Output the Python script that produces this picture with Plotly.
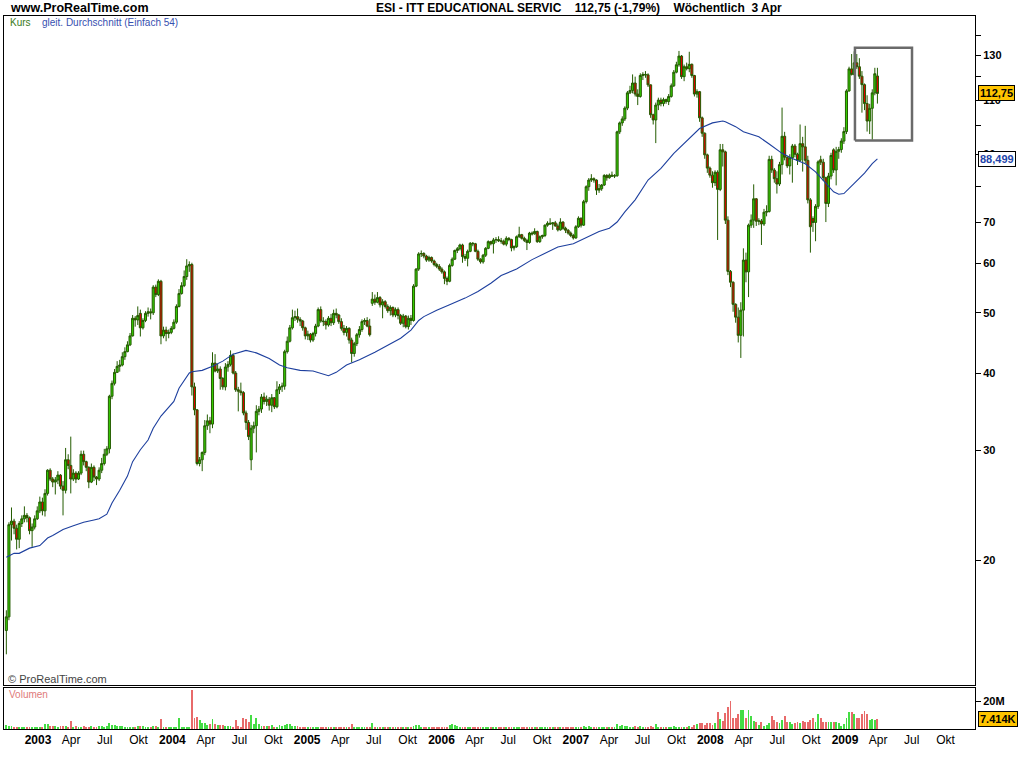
import numpy as np
import pandas as pd
import plotly.graph_objects as go

# ---------------- data (weekly, ESI - ITT Educational Services) ----------------
first_week = "2002-10-07"

opens = [
    15.4, 16.2, 22.8, 23.1, 22.5, 21.6, 22.9, 23.3, 23.6, 23.4,
    22.3, 22.6, 23.3, 24.0, 24.8, 24.0, 25.6, 27.9, 27.0, 26.7,
    26.9, 27.4, 26.3, 25.9, 29.0, 28.4, 27.0, 27.6, 27.0, 27.6,
    29.6, 28.8, 28.2, 26.7, 28.2, 27.2, 27.0, 27.9, 28.6, 29.6,
    30.2, 36.7, 38.5, 40.1, 41.0, 41.2, 42.5, 43.3, 44.4, 45.9,
    49.0, 48.7, 49.9, 47.3, 48.6, 49.9, 50.2, 50.0, 55.0, 53.5,
    56.2, 45.9, 46.9, 46.3, 46.5, 47.2, 48.3, 51.2, 53.7, 55.3,
    57.2, 59.5, 59.8, 38.0, 34.9, 28.6, 29.0, 29.8, 32.9, 33.5,
    33.1, 41.5, 40.3, 40.6, 39.2, 38.0, 40.9, 41.3, 42.7, 40.0,
    37.6, 37.4, 37.2, 34.5, 33.3, 29.0, 32.6, 32.9, 34.7, 35.0,
    36.6, 36.0, 36.3, 35.5, 36.5, 35.3, 37.6, 38.0, 38.1, 43.3,
    45.0, 47.3, 49.1, 49.3, 48.8, 48.5, 47.3, 45.9, 46.2, 45.2,
    46.3, 47.6, 50.6, 48.5, 48.4, 47.8, 49.0, 48.2, 49.9, 49.6,
    48.4, 47.2, 46.5, 47.2, 45.2, 43.0, 44.6, 46.1, 47.0, 48.4,
    48.6, 47.6, 51.8, 52.6, 52.0, 52.9, 51.5, 52.1, 51.2, 50.4,
    51.0, 49.6, 50.6, 49.5, 48.1, 49.4, 47.5, 49.0, 48.6, 55.2,
    58.8, 62.2, 62.3, 61.7, 60.8, 61.4, 60.6, 59.8, 59.4, 58.8,
    58.2, 56.8, 56.2, 59.6, 61.0, 63.0, 63.4, 64.3, 61.6, 61.2,
    62.8, 64.7, 64.6, 62.8, 61.0, 60.4, 61.9, 63.5, 65.1, 64.6,
    65.5, 65.6, 65.3, 65.2, 64.5, 65.9, 65.6, 63.6, 63.9, 66.3,
    66.8, 65.9, 65.4, 64.9, 67.2, 67.0, 67.6, 65.1, 66.3, 66.6,
    69.2, 69.7, 69.5, 69.8, 69.0, 68.0, 70.0, 68.4, 67.9, 67.2,
    66.6, 66.0, 68.8, 71.0, 69.2, 75.5, 79.8, 81.8, 82.2, 81.8,
    78.8, 79.2, 80.3, 83.2, 82.5, 83.3, 83.0, 83.1, 97.8, 101.1,
    102.6, 106.8, 113.0, 114.0, 117.2, 112.5, 111.5, 120.5, 121.0, 120.8,
    116.4, 104.2, 102.2, 108.0, 110.0, 108.6, 110.2, 109.4, 111.5, 116.0,
    122.0, 125.4, 129.5, 120.0, 124.5, 123.6, 125.6, 120.5, 112.5, 113.5,
    103.0, 97.3, 89.8, 85.5, 83.3, 81.0, 84.2, 79.0, 91.5, 90.8,
    70.5, 58.3, 56.0, 51.6, 49.2, 46.0, 50.5, 60.8, 58.2, 69.2,
    70.5, 76.3, 70.2, 70.3, 69.5, 72.6, 72.8, 88.3, 84.9, 82.2,
    80.6, 86.6, 96.2, 89.0, 86.2, 88.8, 92.8, 90.0, 88.0, 93.6,
    92.5, 88.0, 76.0, 70.9, 69.9, 74.2, 88.2, 87.4, 82.5, 75.0,
    83.0, 91.5, 84.9, 91.0, 91.6, 94.5, 97.9, 113.8, 123.5, 121.0,
    126.3, 124.5, 120.2, 116.5, 108.6, 101.8, 106.7, 113.0, 120.3,
]
highs = [
    16.6, 23.0, 24.3, 23.3, 22.8, 23.1, 23.6, 24.4, 23.8, 23.5,
    22.9, 23.6, 24.4, 25.3, 25.2, 26.0, 28.0, 28.1, 27.2, 27.2,
    27.8, 27.5, 26.8, 30.3, 29.6, 31.6, 28.0, 27.8, 27.8, 30.0,
    30.0, 28.9, 28.3, 28.6, 28.4, 27.3, 28.2, 29.2, 30.2, 30.5,
    36.9, 38.9, 40.6, 41.8, 42.0, 43.2, 44.0, 45.0, 46.4, 49.6,
    49.4, 51.2, 50.6, 49.0, 50.3, 51.0, 50.8, 55.4, 55.5, 56.6,
    56.5, 47.5, 47.5, 47.0, 47.6, 48.8, 51.6, 54.6, 56.0, 58.5,
    61.0, 60.5, 60.2, 38.6, 35.0, 29.3, 29.9, 33.6, 34.3, 34.0,
    43.2, 42.9, 41.4, 41.0, 39.4, 41.5, 41.8, 43.5, 43.0, 40.3,
    38.0, 38.6, 37.4, 34.8, 33.6, 33.0, 33.4, 35.5, 35.4, 37.0,
    37.2, 36.8, 36.6, 37.0, 36.6, 38.8, 38.4, 38.6, 43.6, 45.8,
    47.8, 50.6, 50.4, 50.8, 49.2, 48.7, 47.5, 46.8, 46.4, 46.6,
    48.0, 51.0, 51.2, 49.2, 48.8, 49.4, 49.8, 50.6, 50.8, 49.8,
    49.0, 47.8, 47.6, 47.4, 45.6, 44.9, 46.4, 47.6, 48.8, 49.0,
    49.2, 48.9, 54.0, 53.5, 54.0, 53.2, 52.6, 52.4, 51.6, 51.4,
    51.2, 51.0, 51.0, 49.8, 49.8, 49.6, 49.5, 49.6, 55.6, 59.0,
    62.6, 63.0, 62.6, 62.0, 61.8, 61.6, 60.9, 60.2, 59.9, 59.2,
    58.5, 57.2, 60.0, 61.4, 63.2, 63.8, 64.6, 64.6, 62.2, 63.2,
    65.0, 65.0, 64.8, 63.2, 61.2, 62.2, 63.8, 65.4, 65.3, 66.0,
    66.2, 66.4, 66.0, 65.6, 66.4, 66.2, 65.8, 64.2, 66.6, 68.8,
    67.0, 66.3, 65.8, 67.5, 67.6, 68.4, 67.8, 66.6, 66.8, 69.4,
    70.2, 71.0, 70.0, 70.3, 69.6, 71.0, 70.2, 68.8, 68.2, 67.6,
    67.0, 69.2, 71.5, 71.2, 76.0, 80.2, 82.4, 83.6, 82.6, 82.0,
    80.6, 80.6, 83.6, 83.6, 83.8, 84.4, 83.6, 98.2, 101.6, 103.6,
    107.5, 113.8, 116.0, 121.0, 120.0, 114.5, 121.5, 122.0, 122.5, 121.5,
    116.6, 104.6, 109.0, 111.0, 111.0, 111.0, 110.6, 112.5, 117.0, 123.0,
    126.8, 132.0, 130.0, 125.5, 126.4, 131.6, 126.0, 120.8, 114.5, 113.8,
    103.5, 97.6, 90.2, 86.0, 84.5, 84.8, 84.8, 93.5, 93.5, 91.2,
    71.5, 58.6, 56.2, 51.8, 51.0, 52.0, 63.5, 62.5, 69.6, 72.0,
    80.5, 76.5, 71.0, 70.8, 73.5, 74.5, 89.5, 89.5, 85.5, 84.5,
    87.5, 107.0, 97.8, 89.3, 90.0, 93.5, 93.5, 90.5, 100.5, 96.0,
    100.0, 89.5, 76.5, 71.5, 74.8, 88.0, 89.5, 88.5, 82.8, 84.0,
    90.5, 92.0, 92.5, 92.5, 95.5, 99.5, 114.5, 124.5, 130.5, 131.8,
    130.5, 128.5, 122.5, 117.0, 112.0, 108.5, 114.5, 124.0, 124.0,
]
lows = [
    14.1, 16.0, 21.5, 22.0, 20.8, 20.9, 22.6, 23.0, 23.0, 22.0,
    21.0, 22.4, 23.2, 23.8, 23.6, 23.5, 25.4, 26.8, 26.2, 25.5,
    26.5, 26.0, 23.6, 25.6, 28.0, 25.6, 26.8, 26.6, 26.9, 27.4,
    28.4, 27.8, 26.1, 26.6, 26.8, 26.4, 26.8, 27.6, 28.4, 29.4,
    29.7, 36.3, 38.2, 40.0, 40.2, 41.0, 42.0, 43.2, 44.2, 45.8,
    47.5, 47.8, 45.8, 47.0, 48.3, 49.3, 48.8, 49.6, 53.0, 53.2,
    44.5, 45.5, 45.0, 45.5, 46.2, 47.0, 48.0, 51.0, 53.5, 55.0,
    56.5, 58.2, 36.8, 34.2, 28.4, 28.3, 27.8, 29.5, 32.4, 32.0,
    32.6, 40.1, 40.0, 37.6, 37.6, 37.5, 40.2, 41.0, 39.8, 37.3,
    34.7, 36.8, 34.2, 32.4, 31.2, 27.9, 32.0, 29.8, 34.2, 34.5,
    35.6, 35.4, 34.8, 34.6, 35.0, 35.1, 37.0, 37.3, 37.6, 43.0,
    44.8, 47.0, 48.5, 48.2, 47.6, 46.8, 45.3, 45.2, 44.8, 44.9,
    45.8, 47.4, 48.2, 47.6, 47.0, 47.5, 47.6, 47.8, 49.0, 48.0,
    46.8, 46.0, 45.8, 44.6, 41.6, 42.5, 44.2, 45.6, 46.6, 47.8,
    47.4, 45.8, 51.3, 51.5, 51.8, 51.0, 49.0, 50.8, 50.0, 49.5,
    49.2, 49.2, 48.8, 47.8, 47.4, 47.2, 47.0, 47.8, 48.4, 55.0,
    58.4, 61.5, 61.2, 60.4, 60.4, 60.2, 59.4, 59.0, 58.4, 57.8,
    55.6, 55.4, 56.0, 59.3, 60.8, 62.4, 63.0, 60.2, 60.6, 59.4,
    62.6, 64.0, 62.6, 60.6, 60.0, 60.0, 61.5, 63.3, 64.2, 62.3,
    64.8, 65.0, 64.6, 64.2, 64.0, 65.2, 62.8, 63.0, 63.6, 66.0,
    65.6, 65.0, 63.1, 64.6, 66.6, 66.8, 64.8, 64.8, 65.8, 66.2,
    68.8, 69.3, 68.0, 68.8, 67.6, 67.8, 68.0, 67.2, 66.8, 66.2,
    65.6, 65.8, 68.5, 68.6, 69.0, 75.0, 78.6, 81.2, 81.0, 77.4,
    78.0, 78.6, 80.0, 81.6, 82.2, 82.8, 82.4, 82.8, 97.0, 100.0,
    101.8, 106.0, 112.5, 112.8, 111.5, 108.0, 111.0, 118.5, 119.5, 115.5,
    103.0, 100.5, 93.8, 106.0, 107.5, 107.5, 108.5, 108.0, 111.0, 115.5,
    121.5, 124.5, 119.0, 118.0, 122.8, 122.0, 119.5, 111.5, 111.0, 101.5,
    96.0, 88.5, 84.0, 82.5, 79.5, 80.0, 65.5, 78.5, 86.0, 69.5,
    57.5, 55.0, 50.2, 48.2, 44.8, 42.3, 45.8, 56.0, 53.0, 68.5,
    68.5, 69.0, 69.2, 64.3, 69.0, 71.5, 72.5, 84.0, 81.0, 77.8,
    80.0, 83.5, 88.0, 85.5, 83.5, 81.0, 89.0, 86.5, 87.5, 84.4,
    87.0, 75.0, 62.5, 67.5, 65.2, 73.5, 86.5, 81.5, 70.0, 74.0,
    82.0, 84.0, 80.2, 88.5, 90.5, 93.5, 97.0, 113.5, 120.5, 120.5,
    123.5, 119.0, 105.0, 106.0, 97.9, 97.0, 95.0, 112.0, 108.6,
]
closes = [
    16.2, 22.8, 23.1, 22.5, 21.6, 22.9, 23.3, 23.6, 23.4, 22.3,
    22.6, 23.3, 24.0, 24.8, 24.0, 25.6, 27.9, 27.0, 26.7, 26.9,
    27.4, 26.3, 25.9, 29.0, 28.4, 27.0, 27.6, 27.0, 27.6, 29.6,
    28.8, 28.2, 26.7, 28.2, 27.2, 27.0, 27.9, 28.6, 29.6, 30.2,
    36.7, 38.5, 40.1, 41.0, 41.2, 42.5, 43.3, 44.4, 45.9, 49.0,
    48.7, 49.5, 47.3, 48.6, 49.9, 50.2, 50.0, 55.0, 53.5, 56.2,
    45.9, 46.9, 46.3, 46.5, 47.2, 48.3, 51.2, 53.7, 55.3, 57.2,
    59.5, 59.8, 38.0, 34.9, 28.6, 29.0, 29.8, 32.9, 33.5, 33.1,
    41.5, 40.3, 40.6, 39.2, 38.0, 40.9, 41.3, 42.7, 40.0, 37.6,
    37.4, 37.2, 34.5, 33.3, 31.6, 32.6, 32.9, 34.7, 35.0, 36.6,
    36.0, 36.3, 35.5, 36.5, 35.3, 37.6, 38.0, 38.1, 43.3, 45.0,
    47.3, 49.1, 49.3, 48.8, 48.5, 47.3, 45.9, 46.2, 45.2, 46.3,
    47.6, 50.6, 48.5, 48.4, 47.8, 49.0, 48.2, 49.9, 49.6, 48.4,
    47.2, 46.5, 47.2, 45.2, 43.0, 44.6, 46.1, 47.0, 48.4, 48.6,
    47.6, 46.1, 52.6, 52.0, 52.9, 51.5, 52.1, 51.2, 50.4, 51.0,
    49.6, 50.6, 49.5, 48.1, 49.4, 47.5, 49.0, 48.6, 55.2, 58.8,
    62.2, 62.3, 61.7, 60.8, 61.4, 60.6, 59.8, 59.4, 58.8, 58.2,
    56.8, 56.2, 59.6, 61.0, 63.0, 63.4, 64.3, 61.6, 61.2, 62.8,
    64.7, 64.6, 62.8, 61.0, 60.4, 61.9, 63.5, 65.1, 64.6, 65.5,
    65.6, 65.3, 65.2, 64.5, 65.9, 65.6, 63.6, 63.9, 66.3, 66.8,
    65.9, 65.4, 64.9, 67.2, 67.0, 67.6, 65.1, 66.3, 66.6, 69.2,
    69.7, 69.5, 69.8, 69.0, 68.0, 70.0, 68.4, 67.9, 67.2, 66.6,
    66.0, 68.8, 71.0, 69.2, 75.5, 79.8, 81.8, 82.2, 81.8, 78.8,
    79.2, 80.3, 83.2, 82.5, 83.3, 83.0, 83.1, 97.8, 101.1, 102.6,
    106.8, 113.0, 114.0, 117.2, 112.5, 111.5, 120.5, 121.0, 120.8, 116.4,
    104.2, 102.2, 108.0, 110.0, 108.6, 110.2, 109.4, 111.5, 116.0, 122.0,
    125.4, 129.5, 120.0, 124.5, 123.6, 125.6, 120.5, 112.5, 113.5, 103.0,
    97.3, 89.8, 85.5, 83.3, 81.0, 84.2, 79.0, 91.5, 90.8, 70.5,
    58.3, 56.0, 51.6, 49.2, 46.0, 50.5, 60.8, 58.2, 69.2, 70.5,
    76.3, 70.2, 70.3, 69.5, 72.6, 72.8, 88.3, 84.9, 82.2, 80.6,
    86.6, 96.2, 89.0, 86.2, 88.8, 92.8, 90.0, 88.0, 93.6, 92.5,
    88.0, 76.0, 68.8, 69.9, 74.2, 87.5, 87.4, 82.5, 75.0, 83.0,
    89.6, 84.9, 91.0, 91.6, 94.5, 97.9, 113.8, 123.5, 121.0, 126.3,
    124.5, 120.2, 116.5, 108.6, 101.8, 106.7, 113.0, 121.3, 112.75,
]
# weekly volume, millions of shares
volume_m = [
    3.1, 2.4, 2.4, 1.3, 1.2, 1.4, 1.2, 1.1, 1.3, 1.2,
    1.7, 1.5, 1.4, 1.6, 1.8, 3.9, 3.9, 2.4, 2.2, 2.0,
    1.7, 2.2, 2.4, 2.0, 1.6, 6.0, 1.6, 1.9, 1.8, 1.8,
    1.9, 1.6, 1.5, 1.9, 1.4, 1.8, 2.2, 2.4, 1.8, 1.9,
    4.6, 3.1, 3.1, 2.2, 2.0, 2.2, 1.8, 1.6, 1.8, 1.7,
    1.6, 1.9, 2.5, 2.4, 1.5, 1.4, 1.6, 2.4, 2.0, 1.8,
    7.5, 1.8, 1.6, 1.5, 1.3, 1.2, 1.4, 7.7, 1.6, 1.4,
    1.5, 1.6, 27.8, 8.2, 8.9, 6.8, 4.1, 4.3, 2.9, 3.6,
    7.5, 3.6, 3.1, 3.1, 3.1, 2.2, 2.0, 2.0, 1.7, 6.8,
    2.4, 1.8, 8.2, 7.5, 5.3, 10.4, 3.6, 8.2, 3.6, 2.2,
    2.4, 1.9, 2.0, 3.1, 1.8, 1.7, 2.9, 2.4, 3.1, 3.6,
    3.9, 2.0, 1.9, 2.2, 1.8, 1.7, 1.6, 1.8, 1.5, 1.4,
    1.3, 1.4, 1.2, 1.3, 1.5, 1.2, 1.3, 1.4, 1.2, 1.5,
    1.4, 1.3, 1.6, 1.5, 3.9, 1.5, 1.3, 1.4, 1.6, 1.3,
    1.2, 1.5, 4.6, 1.6, 1.5, 1.4, 1.7, 1.3, 1.2, 1.4,
    1.5, 1.3, 1.4, 1.6, 1.2, 1.3, 1.5, 1.4, 2.2, 3.1,
    3.1, 1.8, 1.5, 1.6, 1.3, 1.4, 1.2, 1.3, 1.4, 1.5,
    1.3, 1.4, 3.1, 3.4, 3.1, 2.2, 1.8, 1.6, 1.5, 1.4,
    1.2, 1.3, 1.5, 1.4, 1.2, 1.3, 1.6, 1.4, 1.3, 1.5,
    1.2, 1.4, 1.3, 1.6, 1.5, 1.3, 1.7, 1.4, 1.3, 1.5,
    1.4, 1.2, 1.6, 1.5, 1.3, 1.2, 1.4, 1.5, 1.3, 1.6,
    1.7, 1.4, 1.3, 1.5, 1.2, 1.6, 1.4, 1.3, 1.2, 1.4,
    1.5, 1.3, 1.6, 1.4, 2.0, 1.8, 2.2, 1.6, 1.4, 1.7,
    1.5, 1.4, 1.6, 1.3, 1.5, 1.2, 1.4, 3.6, 2.4, 2.7,
    2.5, 2.2, 1.8, 1.7, 2.0, 1.6, 1.9, 1.5, 1.4, 1.8,
    2.4, 1.6, 3.9, 1.8, 1.5, 1.4, 1.6, 1.5, 1.7, 1.9,
    1.6, 1.5, 1.8, 1.7, 1.4, 2.2, 1.6, 2.6, 3.6, 4.3,
    4.1, 2.6, 4.1, 4.1, 3.0, 4.1, 12.1, 7.0, 5.8, 11.4,
    15.7, 20.5, 8.2, 7.7, 11.1, 14.0, 14.0, 7.7, 14.0, 9.7,
    5.6, 4.8, 3.1, 4.8, 2.4, 3.1, 4.3, 9.7, 6.3, 4.8,
    4.1, 6.5, 9.2, 5.3, 4.8, 3.4, 4.1, 4.8, 4.3, 5.8,
    5.3, 4.8, 6.5, 8.2, 5.3, 11.1, 8.2, 4.8, 5.3, 5.3,
    5.3, 4.8, 4.8, 4.1, 2.4, 3.4, 8.2, 12.6, 12.6, 11.1,
    8.2, 7.7, 11.1, 13.3, 11.1, 6.8, 7.5, 6.8, 7.414,
]
# 54-week simple moving average, read at these week numbers
ma_week = [0, 3, 5, 9, 13, 16, 18, 22, 26, 30, 34, 36, 39, 41, 44, 47, 49, 52, 55, 57,
           60, 62, 65, 67, 71, 72, 76, 80, 84, 88, 93, 97, 102, 106, 109, 114, 119, 125, 128, 132,
           137, 143, 148, 153, 157, 160, 162, 167, 172, 178, 183, 188, 192, 198, 204, 209, 214, 220, 224, 230,
           234, 237, 240, 244, 249, 254, 259, 265, 269, 274, 278, 279, 283, 286, 292, 296, 301, 305, 310, 314,
           318, 321, 323, 325, 329, 333, 336, 338]
ma_value = [20.2, 20.5, 20.5, 20.9, 21.1, 21.7, 21.9, 22.4, 22.7, 23.0, 23.2, 23.3, 23.7, 24.7, 25.9, 27.3, 28.8, 30.1, 31.2, 32.6,
            34.1, 34.9, 36.0, 37.8, 40.0, 40.2, 40.4, 41.0, 41.8, 42.9, 43.5, 43.1, 42.2, 41.2, 40.8, 40.4, 40.3, 39.6, 40.1, 41.2,
            42.0, 43.2, 44.4, 45.5, 46.9, 48.6, 49.3, 50.5, 51.5, 52.8, 54.1, 55.8, 57.4, 58.8, 60.9, 62.3, 63.8, 64.6, 65.8, 67.6,
            68.4, 70.0, 72.7, 76.0, 81.8, 85.4, 90.3, 95.3, 99.0, 101.1, 101.8, 101.5, 99.7, 97.8, 96.0, 93.5, 90.3, 88.6, 86.9, 84.3,
            80.8, 78.3, 77.6, 77.8, 80.8, 83.9, 86.9, 88.499]

price_ticks = [20, 30, 40, 50, 60, 70, 80, 90, 100, 110, 120, 130, 140]
price_labels = ["20", "30", "40", "50", "60", "70", "", "90", "", "110", "", "130", ""]
month_names = {1: None, 4: "Apr", 7: "Jul", 10: "Okt"}

n = len(closes)
assert len(opens) == n and len(highs) == n and len(lows) == n and len(volume_m) == n
assert len(ma_week) == len(ma_value)

dates = pd.date_range(first_week, periods=n, freq="7D")
volume = np.array(volume_m) * 1e6
up = np.array(closes) >= np.array(opens)

# ---------------- geometry helpers (pixel -> paper) ----------------
W, H = 1024, 768
def fx(px):
    return px / W
def fy(py):
    return 1 - py / H

X_RANGE = ["2002-09-30 15:36", "2009-12-20 02:00"]
Y_RANGE = [np.log10(12.584), np.log10(150.25)]
VOL_MAX = 29.6e6

GREEN_LINE = "#245c00"
GREEN_FILL = "#33cc00"
RED_FILL = "#dd0000"
FONT = "Liberation Sans, Arial, sans-serif"

fig = go.Figure()

fig.add_trace(go.Candlestick(
    x=dates, open=opens, high=highs, low=lows, close=closes,
    increasing=dict(line=dict(color=GREEN_LINE, width=1), fillcolor=GREEN_FILL),
    decreasing=dict(line=dict(color=GREEN_LINE, width=1), fillcolor=RED_FILL),
    whiskerwidth=0, showlegend=False, hoverinfo="skip",
    xaxis="x", yaxis="y",
))

fig.add_trace(go.Scatter(
    x=dates[ma_week], y=ma_value, mode="lines",
    line=dict(color="#1d3f9e", width=1.1), showlegend=False, hoverinfo="skip",
    xaxis="x", yaxis="y",
))

# highlight box around the latest weeks
box_x = [pd.Timestamp("2009-01-28"), pd.Timestamp("2009-07-02")]
box_y = [94.7, 133.6]
fig.add_trace(go.Scatter(
    x=[box_x[0], box_x[1], box_x[1], box_x[0], box_x[0]],
    y=[box_y[0], box_y[0], box_y[1], box_y[1], box_y[0]],
    mode="lines", line=dict(color="#6a6a6a", width=2.5),
    showlegend=False, hoverinfo="skip", xaxis="x", yaxis="y",
))

fig.add_trace(go.Bar(
    x=dates, y=volume,
    marker=dict(color=np.where(up, "#44dd44", "#e86a6a"), line=dict(width=0)),
    width=2.4 * 86400000, showlegend=False, hoverinfo="skip",
    xaxis="x2", yaxis="y2",
))

# x tick labels (quarters)
tickvals, ticktext = [], []
for yr in range(2003, 2010):
    for m in (1, 4, 7, 10):
        tickvals.append(pd.Timestamp(yr, m, 1))
        ticktext.append(f"<b>{yr}</b>" if m == 1 else month_names[m])

axis_common = dict(showgrid=False, zeroline=False, showline=True, mirror=True,
                   linecolor="black", linewidth=1)

fig.update_layout(
    width=W, height=H, autosize=False,
    margin=dict(l=0, r=0, t=0, b=0),
    paper_bgcolor="white", plot_bgcolor="white",
    showlegend=False,
    bargap=0, boxgap=0.2, boxgroupgap=0,
    xaxis=dict(domain=[fx(4), fx(975)], range=X_RANGE, type="date",
               showticklabels=False, ticks="", anchor="y",
               rangeslider=dict(visible=False), **axis_common),
    yaxis=dict(domain=[fy(685), fy(16)], type="log", range=Y_RANGE,
               side="right", anchor="x",
               tickvals=price_ticks, ticktext=price_labels,
               ticks="outside", ticklen=5, tickcolor="black",
               tickfont=dict(family=FONT, size=11, color="black", weight="bold"),
               **axis_common),
    xaxis2=dict(domain=[fx(4), fx(975)], range=X_RANGE, type="date",
                anchor="y2", matches="x",
                tickvals=tickvals, ticktext=ticktext, ticks="",
                tickfont=dict(family=FONT, size=12, color="black"),
                **axis_common),
    yaxis2=dict(domain=[fy(729), fy(688)], range=[0, VOL_MAX],
                side="right", anchor="x2",
                tickvals=[20e6], ticktext=["20M"],
                ticks="outside", ticklen=5, tickcolor="black",
                tickfont=dict(family=FONT, size=11, color="black", weight="bold"),
                **axis_common),
)

ann = []
ann.append(dict(text="<b>www.ProRealTime.com</b>", x=fx(8), y=fy(8), xref="paper", yref="paper",
                xanchor="left", yanchor="middle", showarrow=False,
                font=dict(family=FONT, size=12.5, color="black")))
ann.append(dict(text="<b>ESI - ITT EDUCATIONAL SERVIC&nbsp;&nbsp;&nbsp;&nbsp;112,75 (-1,79%)&nbsp;&nbsp;&nbsp;&nbsp;Wöchentlich&nbsp;&nbsp;3 Apr</b>",
                x=fx(579), y=fy(8), xref="paper", yref="paper",
                xanchor="center", yanchor="middle", showarrow=False,
                font=dict(family=FONT, size=12, color="black")))
ann.append(dict(text="Kurs", x=fx(8), y=fy(22), xref="paper", yref="paper",
                xanchor="left", yanchor="middle", showarrow=False,
                font=dict(family=FONT, size=10, color="#3a7a1a")))
ann.append(dict(text="gleit. Durchschnitt (Einfach 54)", x=fx(40), y=fy(22), xref="paper", yref="paper",
                xanchor="left", yanchor="middle", showarrow=False,
                font=dict(family=FONT, size=10, color="#3650b0")))
ann.append(dict(text="© ProRealTime.com", x=fx(6), y=fy(679), xref="paper", yref="paper",
                xanchor="left", yanchor="middle", showarrow=False,
                font=dict(family=FONT, size=11, color="#444444")))
ann.append(dict(text="Volumen", x=fx(7), y=fy(694), xref="paper", yref="paper",
                xanchor="left", yanchor="middle", showarrow=False,
                font=dict(family=FONT, size=10, color="#e07a7a")))
# value boxes on the right axis
ann.append(dict(text="<b>" + f"{closes[-1]:.2f}".replace(".", ",") + "</b>",
                x=fx(978), y=np.log10(closes[-1]), xref="paper", yref="y",
                xanchor="left", yanchor="middle", showarrow=False,
                bgcolor="#ffc400", bordercolor="black", borderwidth=1, borderpad=1,
                font=dict(family=FONT, size=11, color="black")))
ann.append(dict(text="<b>" + f"{ma_value[-1]:.3f}".replace(".", ",") + "</b>",
                x=fx(978), y=np.log10(ma_value[-1]), xref="paper", yref="y",
                xanchor="left", yanchor="middle", showarrow=False,
                bgcolor="white", bordercolor="black", borderwidth=1, borderpad=1,
                font=dict(family=FONT, size=11, color="#2244aa")))
ann.append(dict(text=f"<b>{volume_m[-1]:.3f}K</b>",
                x=fx(978), y=volume[-1], xref="paper", yref="y2",
                xanchor="left", yanchor="middle", showarrow=False,
                bgcolor="#ffc400", bordercolor="black", borderwidth=1, borderpad=1,
                font=dict(family=FONT, size=11, color="black")))
fig.update_layout(annotations=ann)

fig.write_html("out.html", config={"displayModeBar": False},
               post_script="document.body.style.margin='0px';document.body.style.overflow='hidden';")
